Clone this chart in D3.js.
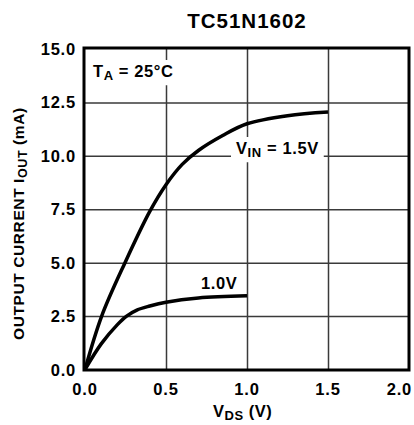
<!DOCTYPE html>
<html>
<head>
<meta charset="utf-8">
<script src="https://cdn.jsdelivr.net/npm/d3@7"></script>
<style>
  body { margin: 0; background: #fff; }
  text { font-family: "Liberation Sans", Arial, Helvetica, sans-serif; font-weight: bold; fill: #000; }
</style>
</head>
<body>
<div id="chart"></div>
<script>
// Data
const xTicks = [0.0, 0.5, 1.0, 1.5, 2.0];
const yTicks = [0.0, 2.5, 5.0, 7.5, 10.0, 12.5, 15.0];

// V_IN = 1.5V
const vds15 = [0, 0.103, 0.247, 0.40, 0.5, 0.6, 0.7, 0.85, 1.0, 1.25, 1.5];
const iout15 = [0, 2.5, 5.0, 7.4, 8.65, 9.6, 10.25, 10.95, 11.5, 11.88, 12.05];

// V_IN = 1.0V
const vds10 = [0, 0.1, 0.2, 0.257, 0.32, 0.4, 0.5, 0.7, 1.0];
const iout10 = [0, 1.2, 2.1, 2.5, 2.78, 2.97, 3.15, 3.35, 3.45];

const width = 414, height = 425;
const plot = { left: 85, right: 409, top: 49, bottom: 369.5 };

const svg = d3.select("#chart").append("svg")
    .attr("width", width)
    .attr("height", height);

const x = d3.scaleLinear().domain([0, 2]).range([plot.left, plot.right]);
const y = d3.scaleLinear().domain([0, 15]).range([plot.bottom, plot.top]);

// grid
svg.append("g")
    .attr("transform", `translate(0,${plot.bottom})`)
    .call(d3.axisBottom(x).tickValues(xTicks.slice(1, -1))
        .tickSize(-(plot.bottom - plot.top)).tickFormat(""))
    .call(g => g.select(".domain").remove())
    .call(g => g.selectAll("line").attr("stroke", "#3a3a3a").attr("stroke-width", 1.5));

svg.append("g")
    .attr("transform", `translate(${plot.left},0)`)
    .call(d3.axisLeft(y).tickValues(yTicks.slice(1, -1))
        .tickSize(-(plot.right - plot.left)).tickFormat(""))
    .call(g => g.select(".domain").remove())
    .call(g => g.selectAll("line").attr("stroke", "#3a3a3a").attr("stroke-width", 1.5));

// tick labels
svg.append("g").selectAll("text")
    .data(xTicks).join("text")
    .attr("x", (d, i) => i === xTicks.length - 1 ? 412 : x(d))
    .attr("y", 395)
    .attr("text-anchor", (d, i) => i === xTicks.length - 1 ? "end" : "middle")
    .attr("font-size", 16.5)
    .attr("letter-spacing", 0.8)
    .text(d => d.toFixed(1));

svg.append("g").selectAll("text")
    .data(yTicks).join("text")
    .attr("x", 76)
    .attr("y", d => y(d) + 6)
    .attr("text-anchor", "end")
    .attr("font-size", 16.5)
    .attr("letter-spacing", 0.8)
    .text(d => d.toFixed(1));

// labels with white background
function boxedLabel(tx, ty, parts, pad) {
    const g = svg.append("g");
    const rect = g.append("rect").attr("fill", "#fff");
    const t = g.append("text").attr("x", tx).attr("y", ty).attr("font-size", 16.5).attr("letter-spacing", 0.6);
    parts.forEach(p => {
        const s = t.append("tspan").text(p.t);
        if (p.sub) s.attr("baseline-shift", "-25%").attr("font-size", 13);
    });
    const b = t.node().getBBox();
    rect.attr("x", b.x - pad).attr("y", b.y - 2).attr("width", b.width + 2 * pad).attr("height", b.height + 4);
    return g;
}

// curves
const line = d3.line().x(d => x(d[0])).y(d => y(d[1])).curve(d3.curveCatmullRom.alpha(0.5));
svg.append("path")
    .datum(vds15.map((v, i) => [v, iout15[i]]))
    .attr("d", line)
    .attr("fill", "none").attr("stroke", "#000").attr("stroke-width", 3.5);
svg.append("path")
    .datum(vds10.map((v, i) => [v, iout10[i]]))
    .attr("d", line)
    .attr("fill", "none").attr("stroke", "#000").attr("stroke-width", 3.5);

boxedLabel(93, 77, [{ t: "T" }, { t: "A", sub: true }, { t: " = 25°C" }], 6);
boxedLabel(236, 154, [{ t: "V" }, { t: "IN", sub: true }, { t: " = 1.5V" }], 5);
boxedLabel(201, 289, [{ t: "1.0V" }], 2);

// frame
svg.append("rect")
    .attr("x", plot.left - 1).attr("y", plot.top - 1)
    .attr("width", plot.right - plot.left + 1).attr("height", plot.bottom - plot.top + 1.5)
    .attr("fill", "none").attr("stroke", "#000").attr("stroke-width", 3);

// title
svg.append("text")
    .attr("x", 247).attr("y", 28)
    .attr("text-anchor", "middle")
    .attr("font-size", 20.5)
    .attr("letter-spacing", 1)
    .text("TC51N1602");

// x axis title
const xt = svg.append("text")
    .attr("x", 213).attr("y", 417)
    .attr("font-size", 16.5)
    .attr("letter-spacing", 0.5);
xt.append("tspan").text("V");
xt.append("tspan").attr("baseline-shift", "-25%").attr("font-size", 13).text("DS");
xt.append("tspan").text(" (V)");

// y axis title
const yt = svg.append("text")
    .attr("transform", "translate(24,340) rotate(-90)")
    .attr("font-size", 15.5)
    .attr("letter-spacing", 0.6);
yt.append("tspan").text("OUTPUT CURRENT I");
yt.append("tspan").attr("baseline-shift", "-25%").attr("font-size", 12.5).text("OUT");
yt.append("tspan").text(" (mA)");
</script>
</body>
</html>
